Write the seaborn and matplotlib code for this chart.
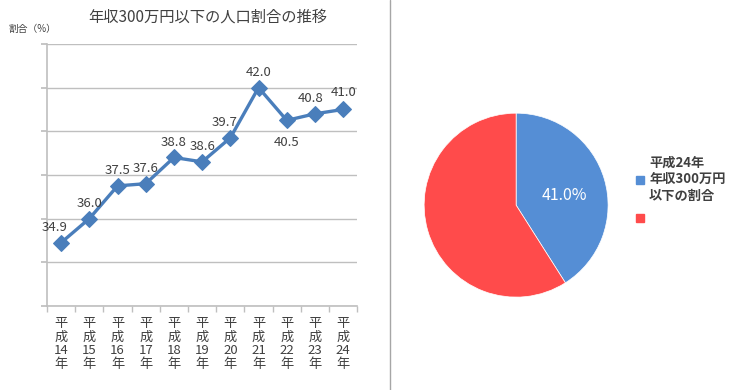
import pandas as pd
import matplotlib
matplotlib.use("Agg")
import matplotlib.pyplot as plt
import seaborn as sns
from matplotlib.lines import Line2D

# data
years = ["14", "15", "16", "17", "18", "19", "20", "21", "22", "23", "24"]
ratio = [34.9, 36.0, 37.5, 37.6, 38.8, 38.6, 39.7, 42.0, 40.5, 40.8, 41.0]
pie_values = [41.0, 59.0]
pie_labels = ["平成24年\n年収300万円\n以下の割合", ""]

sns.set_theme(style="white")
plt.rcParams["font.family"] = ["Noto Sans CJK JP", "DejaVu Sans"]

df = pd.DataFrame({"idx": range(len(years)), "ratio": ratio})

fig = plt.figure(figsize=(7.3, 3.9), dpi=100)
ax = fig.add_axes([0.0644, 0.2154, 0.425, 0.672])

grid_c = "#BFBFBF"
line_c = "#4A7EBB"

sns.lineplot(data=df, x="idx", y="ratio", ax=ax, color=line_c, linewidth=2.4,
             marker="D", markersize=8, markeredgecolor=line_c, markerfacecolor=line_c)

ax.set_xlim(-0.5, len(years) - 0.5)
ax.set_ylim(32, 44)
ax.set_yticks(range(32, 45, 2))
ax.set_yticklabels([])
ax.yaxis.grid(True, color=grid_c, linewidth=1)
ax.set_axisbelow(True)
for s in ["top", "right"]:
    ax.spines[s].set_visible(False)
ax.spines["left"].set_color(grid_c)
ax.spines["bottom"].set_color(grid_c)
ax.spines["left"].set_linewidth(1.2)
ax.spines["bottom"].set_linewidth(1.2)
ax.tick_params(axis="y", length=4, color=grid_c, left=True)

ax.set_xticks(range(len(years)))
ax.set_xticklabels(["平\n成\n" + y + "\n年" for y in years], fontsize=9.5,
                   color="#404040", linespacing=1.05)
ax.set_xticks([i - 0.5 for i in range(len(years) + 1)], minor=True)
ax.tick_params(axis="x", which="major", length=0, pad=8)
ax.tick_params(axis="x", which="minor", length=4, color=grid_c, bottom=True)
ax.set_xlabel("")
ax.set_ylabel("")

# data labels
offsets = {0: (-5, 11), 6: (-4, 11), 8: (0, -16), 9: (-3, 11), 10: (0, 12)}
for i, v in enumerate(ratio):
    dx, dy = offsets.get(i, (0, 11))
    ax.annotate(f"{v:.1f}", (i, v), xytext=(dx, dy), textcoords="offset points",
                ha="center", va="center", fontsize=9.5, color="#404040")

fig.text(0.284, 0.955, "年収300万円以下の人口割合の推移", ha="center", va="center",
         fontsize=11, color="#404040")
fig.text(0.011, 0.925, "割合（%）", ha="left", va="center", fontsize=7, color="#404040")

# divider
fig.add_artist(Line2D([390 / 730, 390 / 730], [0, 1], color="#A6A6A6", linewidth=1))

# pie
pax = fig.add_axes([0.581, 0.238, 0.252, 0.472])
pie_colors = ["#558ED5", "#FF4B4B"]
wedges, _ = pax.pie(pie_values, colors=pie_colors, startangle=90, counterclock=False,
                    wedgeprops=dict(edgecolor="white", linewidth=0.5))
pax.set_xlim(-1, 1)
pax.set_ylim(-1, 1)
pax.set_aspect("equal")
pax.text(0.53, 0.1, f"{pie_values[0]:.1f}%", ha="center", va="center",
         fontsize=11.5, color="white")

handles = [Line2D([0], [0], marker="s", linestyle="", markersize=6,
                  markerfacecolor=c, markeredgecolor=c) for c in pie_colors]
leg = fig.legend(handles, pie_labels, loc="upper left", bbox_to_anchor=(0.853, 0.63),
                 frameon=False, fontsize=9.5, handletextpad=0.3, labelspacing=0.7,
                 handlelength=0.8)
for t in leg.get_texts():
    t.set_color("#404040")
    t.set_fontweight("bold")

fig.savefig("out.png", dpi=100)
